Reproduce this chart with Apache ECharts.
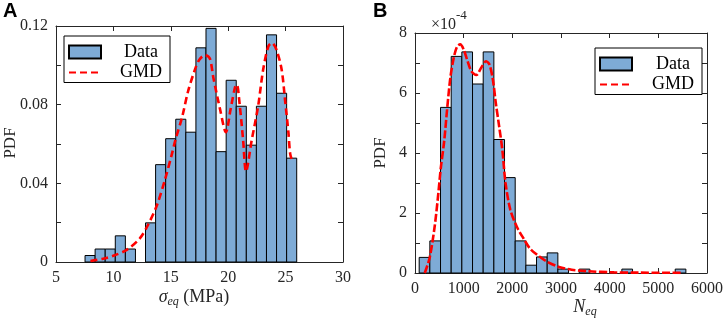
<!DOCTYPE html>
<html><head><meta charset="utf-8">
<script src="https://cdn.jsdelivr.net/npm/echarts@6/dist/echarts.min.js"></script>
<style>html,body{margin:0;padding:0;background:#fff}#c{width:726px;height:318px}</style>
</head><body><div id="c"></div>
<script>
// Panel A: histogram of sigma_eq
const sigmaBinStart = 7.53;
const sigmaBinWidth = 0.878;
const sigmaPdf = [0.0033,0.0066,0.0066,0.0133,0.0066,0,0.0199,0.0495,0.0627,0.0726,0.066,0.1089,0.1188,0.0561,0.0924,0.0792,0.0594,0.0792,0.1155,0.0858,0.0528];
const sigmaGmdX = [8.0,9.1,10.1,11.2,12.3,13.0,13.8,14.5,15.1,15.4,16.0,16.5,17.1,17.5,18.0,18.4,18.7,19.3,19.8,20.2,20.6,20.75,21.0,21.3,21.55,22.05,22.6,23.05,23.5,23.8,24.2,24.65,24.95,25.25,25.4,25.6];
const sigmaGmdY = [0.0005,0.0017,0.0034,0.0063,0.012,0.0187,0.029,0.042,0.055,0.062,0.074,0.0867,0.0978,0.103,0.1052,0.1035,0.094,0.0774,0.066,0.0774,0.089,0.0902,0.080,0.062,0.046,0.062,0.079,0.098,0.1097,0.1114,0.108,0.098,0.0825,0.0655,0.055,0.051];
const sigmaTicks = [5,10,15,20,25,30];
// Panel B: histogram of N_eq (PDF in units of 1e-4)
const nBinStart = 86;
const nBinWidth = 219.2;
const nPdf = [0.52,1.07,5.52,7.22,7.37,6.3,7.37,4.45,3.18,1.07,0.26,0.535,0.67,0.13,0,0.13,0,0,0,0.13,0,0,0,0,0.13];
const nGmdX = [200,300,400,470,530,600,665,730,800,865,930,1000,1080,1160,1260,1360,1460,1530,1600,1660,1730,1795,1860,1960,2090,2230,2360,2490,2690,2960,3220,3550,4090,4600,5500];
const nGmdY = [0,0.5,1.5,2.5,3.5,4.4,5.55,6.55,7.2,7.55,7.62,7.45,7.06,6.72,6.6,6.84,7.06,6.95,6.45,5.67,4.88,4.1,3.0,2.1,1.55,1.15,0.82,0.63,0.4,0.2,0.11,0.06,0.02,0.012,0.005];
const nTicks = [0,1000,2000,3000,4000,5000,6000];

const SERIF = '"Liberation Serif", "Times New Roman", serif';
const AX = '#262626';
const BAR = '#7EABD6';

function hist(start, width, vals){
  return vals.map((v,i)=>[start+i*width, start+(i+1)*width, v]);
}
function renderBar(params, api){
  const h = api.value(2);
  if (!h) return null;
  const p0 = api.coord([api.value(0), h]);
  const p1 = api.coord([api.value(1), 0]);
  return {type:'rect', shape:{x:p0[0], y:p0[1], width:p1[0]-p0[0], height:p1[1]-p0[1]},
    style:{fill:BAR, stroke:'#000', lineWidth:1}};
}
function xAx(grid, pos, ticks, labels){
  const interval = ticks[1]-ticks[0];
  return {type:'value', gridIndex:grid, position:pos, min:ticks[0], max:ticks[ticks.length-1], interval,
    axisLine:{show:true, onZero:false, lineStyle:{color:AX, width:1}},
    axisTick:{show:true, inside:true, length:5, lineStyle:{color:AX}},
    axisLabel:{show:labels, color:AX, fontFamily:SERIF, fontSize:16, margin:8, showMinLabel:true, showMaxLabel:true,
      formatter:(v)=>String(v)},
    splitLine:{show:false}};
}
function yAx(grid, pos, min, max, interval, labels, step, dec){
  return {type:'value', gridIndex:grid, position:pos, min, max, interval,
    axisLine:{show:true, onZero:false, lineStyle:{color:AX, width:1}},
    axisTick:{show:true, inside:true, length:5, lineStyle:{color:AX}},
    axisLabel:{show:labels, color:AX, fontFamily:SERIF, fontSize:16, margin:8, showMinLabel:true, showMaxLabel:true,
      formatter:(v)=>{const r=v/step; if (Math.abs(r-Math.round(r))>1e-6) return ''; return v===0?'0':v.toFixed(dec);}},
    splitLine:{show:false}};
}
function legend(left, top, padLeft){
  return {orient:'vertical', left, top,
    data:[{name:'Data', icon:'rect'},{name:'GMD', itemStyle:{opacity:0}}],
    backgroundColor:'#fff', borderColor:'#000', borderWidth:1, borderRadius:0,
    padding:[7,4,1,4], itemGap:2.5, itemWidth:32, itemHeight:13, selectedMode:false,
    formatter:(n)=>'{t|'+n+'}',
    textStyle:{color:'#000', fontFamily:SERIF, fontSize:18,
      rich:{t:{fontFamily:SERIF, fontSize:18, lineHeight:16, width:50, align:'center', padding:[0,0,0,padLeft]}}}};
}

const chart = echarts.init(document.getElementById('c'), null, {renderer:'canvas'});
chart.setOption({
  animation:false,
  backgroundColor:'#fff',
  grid:[{left:56, top:26, width:287, height:236},{left:415, top:33, width:301, height:240}],
  xAxis:[xAx(0,'bottom',sigmaTicks,true), xAx(0,'top',sigmaTicks,false), xAx(1,'bottom',nTicks,true), xAx(1,'top',nTicks,false)],
  yAxis:[yAx(0,'left',0,0.12,0.02,true,0.04,2), yAx(0,'right',0,0.12,0.02,false,0.04,2), yAx(1,'left',0,8,1,true,2,0), yAx(1,'right',0,8,1,false,2,0)],
  legend:[legend(64,36,10), legend(595,48,11)],
  series:[
    {name:'Data', type:'custom', xAxisIndex:0, yAxisIndex:0, renderItem:renderBar, encode:{x:[0,1], y:2},
      itemStyle:{color:BAR, borderColor:'#000', borderWidth:1}, data:hist(sigmaBinStart, sigmaBinWidth, sigmaPdf), z:2},
    {name:'GMD', type:'line', xAxisIndex:0, yAxisIndex:0, symbol:'none', showSymbol:false, smooth:0.3,
      lineStyle:{color:'#FF0000', width:2.6, type:[7,4]}, itemStyle:{color:'#FF0000'},
      data:sigmaGmdX.map((x,i)=>[x, sigmaGmdY[i]]), z:3},
    {name:'Data', type:'custom', xAxisIndex:2, yAxisIndex:2, renderItem:renderBar, encode:{x:[0,1], y:2},
      itemStyle:{color:BAR, borderColor:'#000', borderWidth:1}, data:hist(nBinStart, nBinWidth, nPdf), z:2},
    {name:'GMD', type:'line', xAxisIndex:2, yAxisIndex:2, symbol:'none', showSymbol:false, smooth:0.3,
      lineStyle:{color:'#FF0000', width:2.6, type:[8,2.5]}, itemStyle:{color:'#FF0000'},
      data:nGmdX.map((x,i)=>[x, nGmdY[i]]), z:3}
  ],
  graphic:[
    {type:'text', left:3, top:1, style:{text:'A', font:'bold 20px "Liberation Sans", Arial, sans-serif', fill:'#000'}},
    {type:'text', left:373, top:1, style:{text:'B', font:'bold 20px "Liberation Sans", Arial, sans-serif', fill:'#000'}},
    {type:'text', x:11, y:143, rotation:Math.PI/2, style:{text:'PDF', font:'17px '+SERIF, fill:AX, align:'center', verticalAlign:'middle'}},
    {type:'text', x:381, y:153, rotation:Math.PI/2, style:{text:'PDF', font:'17px '+SERIF, fill:AX, align:'center', verticalAlign:'middle'}},
    {type:'text', x:194, y:297, style:{text:'{i|σ}{s|eq}{n| (MPa)}', align:'center', verticalAlign:'middle',
      rich:{i:{fontFamily:SERIF, fontStyle:'italic', fontSize:18, lineHeight:22, fill:AX},
            s:{fontFamily:SERIF, fontStyle:'italic', fontSize:12, lineHeight:12, verticalAlign:'bottom', fill:AX},
            n:{fontFamily:SERIF, fontSize:18, lineHeight:22, fill:AX}}}},
    {type:'text', x:585, y:307, style:{text:'{i|N}{s|eq}', align:'center', verticalAlign:'middle',
      rich:{i:{fontFamily:SERIF, fontStyle:'italic', fontSize:18, lineHeight:22, fill:AX},
            s:{fontFamily:SERIF, fontStyle:'italic', fontSize:12, lineHeight:12, verticalAlign:'bottom', fill:AX}}}},
    {type:'text', left:431, top:9, style:{text:'{a|×10}{b|-4}',
      rich:{a:{fontFamily:SERIF, fontSize:16, lineHeight:24, verticalAlign:'bottom', fill:AX},
            b:{fontFamily:SERIF, fontSize:13, lineHeight:13, verticalAlign:'top', fill:AX}}}}
  ]
});
</script></body></html>
